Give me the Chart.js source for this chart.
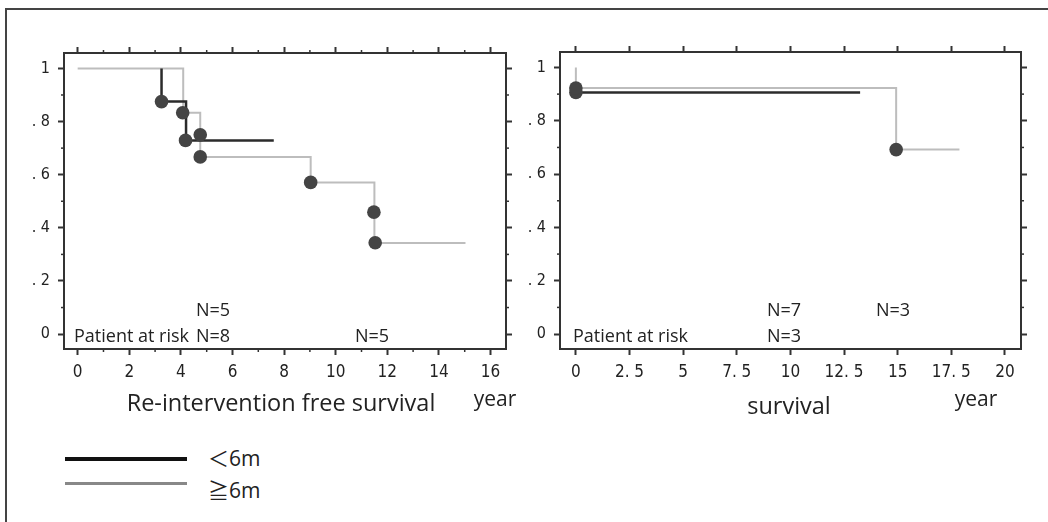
<!DOCTYPE html>
<html>
<head>
<meta charset="utf-8">
<script src="https://cdn.jsdelivr.net/npm/chart.js@4.4.1/dist/chart.umd.min.js"></script>
<style>
  body { margin: 0; width: 1048px; height: 522px; overflow: hidden; position: relative; background: #fff;
         font-family: "Open Sans", "Noto Sans CJK JP", sans-serif; color: #222; }
  .frame { position: absolute; left: 5px; top: 8px; right: -10px; bottom: -10px;
           border-left: 2px solid #444; border-top: 2px solid #444; }
  canvas { position: absolute; top: 0; }
  .t { position: absolute; white-space: nowrap; line-height: 1; }
  .c { transform: translate(-50%, -50%); }
  .l { transform: translate(0, -50%); }
  .sm { font-size: 18px; }
  .key { position: absolute; left: 65px; width: 122px; }
</style>
</head>
<body>
<div class="frame"></div>
<canvas id="reint" width="530" height="420" style="left:0"></canvas>
<canvas id="surv" width="538" height="420" style="left:510px"></canvas>

<!-- patients at risk -->
<div class="t c sm" style="left:213px;top:309px">N=5</div>
<div class="t l sm" style="left:74px;top:335px">Patient at risk</div>
<div class="t c sm" style="left:213px;top:335px">N=8</div>
<div class="t c sm" style="left:372px;top:335px">N=5</div>

<div class="t l sm" style="left:573px;top:335px">Patient at risk</div>
<div class="t c sm" style="left:784px;top:309px">N=7</div>
<div class="t c sm" style="left:893px;top:309px">N=3</div>
<div class="t c sm" style="left:784px;top:335px">N=3</div>

<!-- axis captions -->
<div class="t c" style="left:281px;top:403px;font-size:23.5px">Re-intervention free survival</div>
<div class="t c" style="left:495px;top:398px;font-size:21px">year</div>
<div class="t c" style="left:789px;top:406px;font-size:23.5px">survival</div>
<div class="t c" style="left:976px;top:398px;font-size:21px">year</div>

<!-- legend -->
<div class="key" style="top:457px;height:4px;background:#111"></div>
<div class="key" style="top:482px;height:3px;background:#888"></div>
<div class="t l" style="left:208px;top:458px;font-size:21px">＜6m</div>
<div class="t l" style="left:208px;top:490px;font-size:21px">≧6m</div>

<script>
// Re-intervention free survival, years vs. survival fraction
const reintLtTime = [3.25, 3.25, 4.2, 7.6];
const reintLtSurv = [1, 0.875, 0.729, 0.729];
const reintGeTime = [0, 4.09, 4.75, 4.75, 9.03, 11.5, 11.5, 15.03];
const reintGeSurv = [1, 0.833, 0.75, 0.667, 0.571, 0.457, 0.343, 0.343];
const reintDotTime = [3.25, 4.18, 4.07, 4.75, 4.75, 9.03, 11.48, 11.53];
const reintDotSurv = [0.875, 0.729, 0.833, 0.75, 0.667, 0.571, 0.459, 0.344];

// Overall survival
const survLtTime = [0, 13.25];
const survLtSurv = [0.906, 0.906];
const survGeTime = [0, 0, 14.93, 17.88];
const survGeSurv = [1, 0.923, 0.692, 0.692];
const survDotTime = [0, 0, 14.93];
const survDotSurv = [0.906, 0.923, 0.692];

// ticks
const reintXTicks = [0, 2, 4, 6, 8, 10, 12, 14, 16];
const reintXLabels = ["0", "2", "4", "6", "8", "10", "12", "14", "16"];
const reintXMinor = [1, 3, 5, 7, 9, 11, 13, 15];
const survXTicks = [0, 2.5, 5, 7.5, 10, 12.5, 15, 17.5, 20];
const survXLabels = ["0", "2. 5", "5", "7. 5", "10", "12. 5", "15", "17. 5", "20"];
const yTicks = [0, 0.2, 0.4, 0.6, 0.8, 1];
const yLabels = ["0", ". 2", ". 4", ". 6", ". 8", "1"];
const yMinor = [0.1, 0.3, 0.5, 0.7, 0.9];

const INK = "#333";
const NARROW = '"Liberation Sans Narrow", "DejaVu Sans Condensed", sans-serif';

function pts(xs, ys) {
  return xs.map((x, i) => ({ x, y: ys[i] }));
}

// short ticks between the labelled ones
const minorTicks = {
  id: "minorTicks",
  afterDraw(chart, args, opts) {
    const { ctx, chartArea: a } = chart;
    ctx.save();
    ctx.strokeStyle = INK;
    ctx.lineWidth = 1.5;
    for (const s of Object.values(chart.scales)) {
      for (const v of opts[s.id] || []) {
        const p = s.getPixelForValue(v);
        ctx.beginPath();
        if (s.position === "bottom") { ctx.moveTo(p, a.bottom); ctx.lineTo(p, a.bottom + 3); }
        if (s.position === "top") { ctx.moveTo(p, a.top); ctx.lineTo(p, a.top - 3); }
        if (s.position === "left") { ctx.moveTo(a.left, p); ctx.lineTo(a.left - 3, p); }
        if (s.position === "right") { ctx.moveTo(a.right, p); ctx.lineTo(a.right + 3, p); }
        ctx.stroke();
      }
    }
    ctx.restore();
  }
};

function axis(pos, min, max, ticks, labels, size) {
  return {
    type: "linear", position: pos, min, max,
    afterBuildTicks: s => { s.ticks = ticks.map(v => ({ value: v })); },
    afterFit: s => { if (s.isHorizontal()) s.height = size; else s.width = size; },
    grid: { drawOnChartArea: false, drawTicks: true, tickLength: 6, tickWidth: 2, tickColor: INK, color: INK },
    border: { display: true, color: INK, width: 2 },
    ticks: {
      display: !!labels, autoSkip: false, maxRotation: 0, padding: pos === "bottom" ? 7 : 8, color: "#222",
      font: { family: NARROW, size: pos === "bottom" ? 17 : 16 },
      callback: (v, i) => (labels ? labels[i] : "")
    }
  };
}

function kmChart(id, lt, ge, dots, xr, xTicks, xLabels, xMinor, pad) {
  return new Chart(document.getElementById(id), {
    type: "line",
    data: {
      datasets: [
        { data: dots, showLine: false, pointRadius: 6.8, pointBackgroundColor: "#444", pointBorderWidth: 0, order: 0 },
        { data: lt, stepped: true, borderColor: "#2b2b2b", borderWidth: 2.5, pointRadius: 0, order: 1 },
        { data: ge, stepped: true, borderColor: "#bdbdbd", borderWidth: 2, pointRadius: 0, order: 2 }
      ]
    },
    options: {
      responsive: false,
      devicePixelRatio: 1,
      animation: false,
      layout: { padding: pad },
      plugins: { legend: { display: false }, tooltip: { enabled: false },
                 minorTicks: { x: xMinor, x2: xMinor, y: yMinor, y2: yMinor } },
      scales: {
        x: axis("bottom", xr[0], xr[1], xTicks, xLabels, 30),
        x2: axis("top", xr[0], xr[1], xTicks, null, 10),
        y: axis("left", -0.056, 1.058, yTicks, yLabels, 40),
        y2: axis("right", -0.056, 1.058, yTicks, null, 10)
      }
    },
    plugins: [minorTicks]
  });
}

kmChart("reint", pts(reintLtTime, reintLtSurv), pts(reintGeTime, reintGeSurv), pts(reintDotTime, reintDotSurv),
  [-0.53, 16.6], reintXTicks, reintXLabels, reintXMinor,
  { left: 24, right: 14, top: 43, bottom: 41 });

kmChart("surv", pts(survLtTime, survLtSurv), pts(survGeTime, survGeSurv), pts(survDotTime, survDotSurv),
  [-0.74, 20.75], survXTicks, survXLabels, [],
  { left: 10, right: 17, top: 42, bottom: 41 });
</script>
</body>
</html>
